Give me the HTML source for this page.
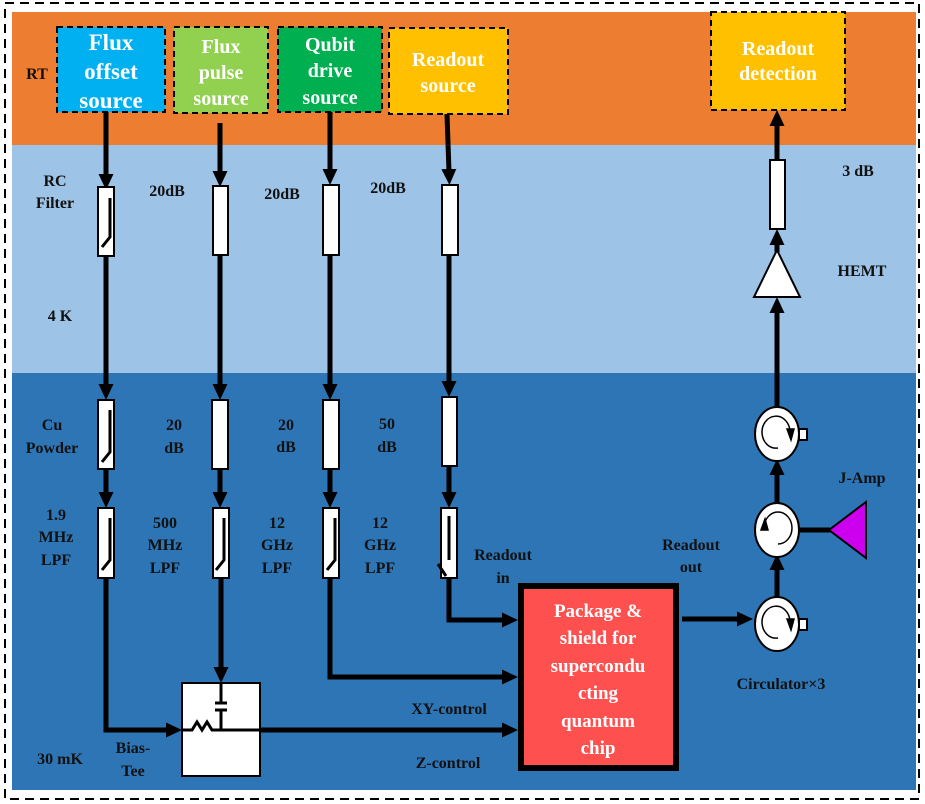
<!DOCTYPE html>
<html><head><meta charset="utf-8"><style>
body{margin:0;background:#fff}
svg{display:block}
text{font-family:"Liberation Serif",serif;font-weight:bold}
.l{font-size:16px;fill:#111}
.w{font-size:20px;fill:#fff}
</style></head><body>
<svg width="925" height="804" viewBox="0 0 925 804" xmlns="http://www.w3.org/2000/svg">
<defs>
<marker id="a" markerWidth="16" markerHeight="15" refX="3" refY="7.5" orient="auto" markerUnits="userSpaceOnUse" viewBox="0 0 16 15"><path d="M0,0 L16,7.5 L0,15z"/></marker>
</defs>
<rect x="5" y="3" width="914" height="796" fill="none" stroke="#000" stroke-width="2" stroke-dasharray="9,6"/>
<rect x="12" y="12" width="904" height="133" fill="#ed7d31"/>
<rect x="12" y="145" width="904" height="228" fill="#9dc3e6"/>
<rect x="12" y="373" width="904" height="417" fill="#2e75b6"/>

<g stroke="#000" stroke-width="2" stroke-dasharray="6,4">
<rect x="57" y="27" width="108" height="85" fill="#00b0f0"/>
<rect x="174" y="27" width="94" height="86" fill="#92d050"/>
<rect x="278" y="27" width="104" height="85" fill="#00b050"/>
<rect x="389" y="28" width="119" height="86" fill="#ffc000"/>
<rect x="711" y="12" width="134" height="98" fill="#ffc000"/>
</g>
<g text-anchor="middle" class="w">
<text x="111" y="50" style="font-size:23px">Flux</text><text x="111" y="79" style="font-size:23px">offset</text><text x="111" y="108" style="font-size:23px">source</text>
<text x="221" y="53">Flux</text><text x="221" y="79">pulse</text><text x="221" y="105">source</text>
<text x="330" y="51">Qubit</text><text x="330" y="77">drive</text><text x="330" y="104">source</text>
<text x="448" y="66">Readout</text><text x="448" y="92">source</text>
<text x="778" y="55">Readout</text><text x="778" y="80">detection</text>
</g>

<g stroke="#000" stroke-width="5" fill="none">
<line x1="106" y1="112" x2="106" y2="177" marker-end="url(#a)"/>
<line x1="220" y1="123" x2="220" y2="174" marker-end="url(#a)"/>
<line x1="330" y1="112" x2="330" y2="172" marker-end="url(#a)"/>
<line x1="447" y1="114" x2="449" y2="172" marker-end="url(#a)"/>
<line x1="106" y1="256" x2="106" y2="387" marker-end="url(#a)"/>
<line x1="220" y1="255" x2="220" y2="387" marker-end="url(#a)"/>
<line x1="330" y1="255" x2="330" y2="387" marker-end="url(#a)"/>
<line x1="449" y1="255" x2="449" y2="384" marker-end="url(#a)"/>
<line x1="106" y1="469" x2="106" y2="495" marker-end="url(#a)"/>
<line x1="220" y1="469" x2="220" y2="495" marker-end="url(#a)"/>
<line x1="330" y1="469" x2="330" y2="495" marker-end="url(#a)"/>
<line x1="449" y1="466" x2="449" y2="495" marker-end="url(#a)"/>
<line x1="221" y1="578" x2="221" y2="670" marker-end="url(#a)"/>
<polyline points="106,578 106,730 169,730" marker-end="url(#a)"/>
<line x1="260" y1="730" x2="505" y2="730" marker-end="url(#a)"/>
<polyline points="330,578 330,677 505,677" marker-end="url(#a)"/>
<polyline points="449,578 449,620 505,620" marker-end="url(#a)"/>
<line x1="682" y1="619" x2="740" y2="619" marker-end="url(#a)"/>
<line x1="777" y1="598" x2="777" y2="567" marker-end="url(#a)"/>
<line x1="777" y1="504" x2="777" y2="472" marker-end="url(#a)"/>
<line x1="777" y1="408" x2="777" y2="310" marker-end="url(#a)"/>
<line x1="777" y1="252" x2="777" y2="242" marker-end="url(#a)"/>
<line x1="777" y1="160" x2="777" y2="123" marker-end="url(#a)"/>
<line x1="800" y1="530" x2="830" y2="530"/>
</g>

<g fill="#fff" stroke="#000" stroke-width="2">
<rect x="98" y="187" width="16" height="69"/><rect x="213" y="186" width="15" height="69"/><rect x="323" y="185" width="16" height="70"/><rect x="442" y="185" width="16" height="70"/>
<rect x="98" y="400" width="16" height="69"/><rect x="212" y="400" width="16" height="69"/><rect x="323" y="400" width="16" height="69"/><rect x="442" y="397" width="15" height="69"/>
<rect x="98" y="508" width="16" height="70"/><rect x="213" y="508" width="16" height="70"/><rect x="323" y="508" width="16" height="70"/><rect x="441" y="508" width="16" height="70"/>
<rect x="770" y="160" width="15" height="69"/>
<rect x="182" y="683" width="78" height="93"/>
<polygon points="777,250 800,297 754,297"/>
<polygon points="829,530 866,502 866,558" fill="#cc00ee"/>
</g>
<g stroke="#000" stroke-width="3" fill="none">
<polyline points="110,198 110,237 102,247"/>
<polyline points="110,410 110,452 102,462"/>
<polyline points="110,518 110,560 102,570"/>
<polyline points="224,518 224,560 216,570"/>
<polyline points="335,518 335,560 327,570"/>
<polyline points="449,516 449,560"/>
<line x1="438" y1="564" x2="446" y2="576"/>
<line x1="221" y1="683" x2="221" y2="702"/><line x1="215" y1="703" x2="227" y2="703"/><line x1="215" y1="710" x2="227" y2="710"/><line x1="221" y1="710" x2="221" y2="730"/>
<polyline points="182,730 192,730 197,722 202,730 207,722 212,730 221,730 260,730"/>
</g>

<rect x="521" y="586" width="155" height="182" fill="#ff5050" stroke="#000" stroke-width="6"/>
<g text-anchor="middle" class="w" style="font-size:19px">
<text x="598" y="617">Package &amp;</text><text x="598" y="644">shield for</text><text x="598" y="672">supercondu</text><text x="598" y="699">cting</text><text x="598" y="727">quantum</text><text x="598" y="754">chip</text>
</g>

<g fill="#fff" stroke="#000" stroke-width="2">
<ellipse cx="777" cy="434" rx="22" ry="27"/><rect x="799" y="429" width="8" height="11"/>
<ellipse cx="777" cy="530" rx="22" ry="27"/>
<ellipse cx="777" cy="624" rx="22" ry="27"/><rect x="799" y="619" width="8" height="11"/>
</g>
<g stroke="#000" stroke-width="1.5" fill="none">
<path d="M790,432 A14,16 0 1,0 778,448"/><path d="M787,429 L791,440 L794,429z" fill="#000"/>
<path d="M764,528 A14,16 0 1,1 778,544"/><path d="M761,530 L765,519 L768,530z" fill="#000"/>
<path d="M790,622 A14,16 0 1,0 778,638"/><path d="M787,619 L791,630 L794,619z" fill="#000"/>
</g>

<g class="l" text-anchor="middle">
<text x="37" y="79">RT</text>
<text x="55" y="186">RC</text><text x="55" y="208">Filter</text>
<text x="167" y="196">20dB</text><text x="282" y="199">20dB</text><text x="388" y="193">20dB</text>
<text x="60" y="321">4 K</text>
<text x="52" y="430">Cu</text><text x="52" y="453">Powder</text>
<text x="174" y="430">20</text><text x="174" y="453">dB</text>
<text x="286" y="430">20</text><text x="286" y="452">dB</text>
<text x="387" y="429">50</text><text x="387" y="452">dB</text>
<text x="56" y="520">1.9</text><text x="56" y="542">MHz</text><text x="56" y="565">LPF</text>
<text x="165" y="528">500</text><text x="165" y="550">MHz</text><text x="165" y="573">LPF</text>
<text x="277" y="528">12</text><text x="277" y="550">GHz</text><text x="277" y="573">LPF</text>
<text x="380" y="528">12</text><text x="380" y="550">GHz</text><text x="380" y="573">LPF</text>
<text x="503" y="560">Readout</text><text x="503" y="583">in</text>
<text x="691" y="550">Readout</text><text x="691" y="572">out</text>
<text x="449" y="714">XY-control</text>
<text x="448" y="768">Z-control</text>
<text x="60" y="764">30 mK</text>
<text x="133" y="753">Bias-</text><text x="133" y="776">Tee</text>
<text x="781" y="689">Circulator×3</text>
<text x="862" y="483">J-Amp</text>
<text x="862" y="276">HEMT</text>
<text x="858" y="176">3 dB</text>
</g>
</svg>
</body></html>
